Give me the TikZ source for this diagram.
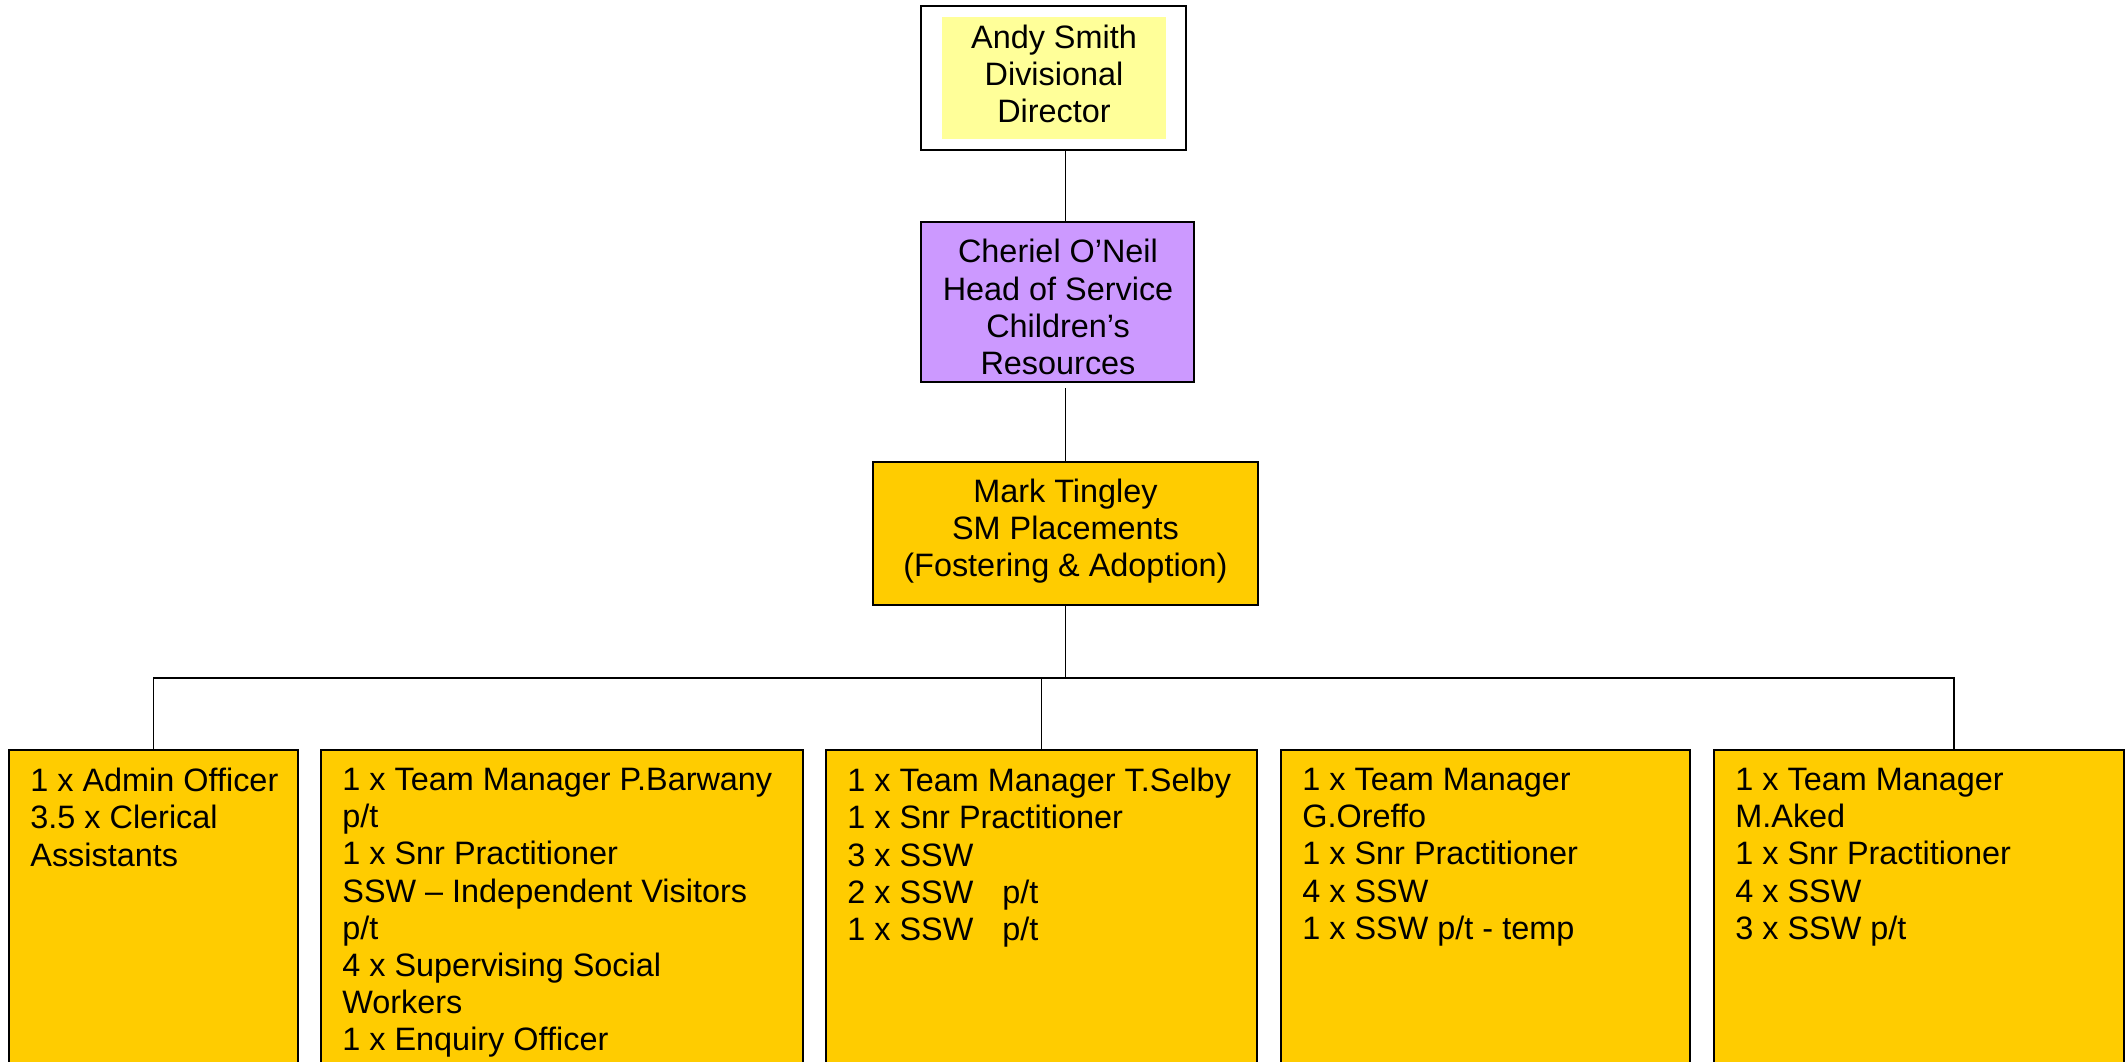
\documentclass[tikz,border=0pt]{standalone}
\usepackage{fontspec}
\setmainfont{Liberation Sans}
\usetikzlibrary{calc}
\definecolor{orgbox}{HTML}{FFCC00}
\definecolor{purplebox}{HTML}{CC99FF}
\definecolor{paleyellow}{HTML}{FFFF99}
\begin{document}
\begin{tikzpicture}[x=0.5pt,y=-0.5pt,
  every node/.style={font=\fontsize{16.2pt}{18.55pt}\selectfont},
  box/.style={draw=black, line width=1pt, inner sep=0pt, outer sep=0pt},
  staffbox/.style={box, fill=orgbox, minimum height=175pt},
  conn/.style={draw=black, line width=0.9pt},
  stafftext/.style={inner sep=0pt, align=left, anchor=north west},
  ctext/.style={inner sep=0pt, align=center}]
\clip (0,0) rectangle (2125,1061);
\fill[white] (0,0) rectangle (2125,1061);

% top
\node[box, fill=white, minimum width=132.5pt, minimum height=72pt] (top) at (1053.5,78) {};
\node[fill=paleyellow, inner sep=0pt, minimum width=112pt, minimum height=61pt] (topin) at (1054,78) {};
\node[ctext] (toptext) at (1054,74) {Andy Smith\\Divisional\\Director};

% head of service
\node[box, fill=purplebox, minimum width=136.5pt, minimum height=80pt] (purple) at (1057.5,302) {};
\node[ctext] (purpletext) at (1058,307) {Cheriel O’Neil\\Head of Service\\Children’s\\Resources};

% SM placements
\node[box, fill=orgbox, minimum width=192.5pt, minimum height=71.5pt] (mark) at (1065.5,533.5) {};
\node[ctext] (marktext) at (1065.5,531.5) {Mark Tingley\\SM Placements\\(Fostering \& Adoption)};

% staff boxes
\node[staffbox, minimum width=144.5pt] (b1) at (153.5,925) {};
\node[staffbox, minimum width=241pt] (b2) at (562,925) {};
\node[staffbox, minimum width=215.5pt] (b3) at (1041.5,925) {};
\node[staffbox, minimum width=204.5pt] (b4) at (1485.5,925) {};
\node[staffbox, minimum width=205pt] (b5) at (1919,925) {};

\node[stafftext] (t1) at ($(b1.north west)+(21,18)$) {1 x Admin Officer\\3.5 x Clerical\\Assistants};
\node[stafftext] (t2) at ($(b2.north west)+(21,18)$) {1 x Team Manager P.Barwany\\p/t\\1 x Snr Practitioner\\SSW – Independent Visitors\\p/t\\4 x Supervising Social\\Workers\\1 x Enquiry Officer};
\node[stafftext] (t3) at ($(b3.north west)+(21,18)$) {1 x Team Manager T.Selby\\1 x Snr Practitioner\\3 x SSW\\2 x SSW\hspace{10pt} p/t\\1 x SSW\hspace{10pt} p/t};
\node[stafftext] (t4) at ($(b4.north west)+(21,18)$) {1 x Team Manager\\G.Oreffo\\1 x Snr Practitioner\\4 x SSW\\1 x SSW p/t - temp};
\node[stafftext] (t5) at ($(b5.north west)+(21,18)$) {1 x Team Manager\\M.Aked\\1 x Snr Practitioner\\4 x SSW\\3 x SSW p/t};

% connectors
\coordinate (busmid) at (1065.5,678);
\coordinate (b5top) at (1954,750);
\draw[conn] (top.south -| mark.south) -- (purple.north -| mark.south);
\draw[conn] ([yshift=-3pt]purple.south -| mark.south) -- (mark.north);
\draw[conn] (mark.south) -- (busmid);
\draw[conn] (b1.north) -- (b1.north |- busmid) -- (b5top |- busmid) -- (b5top);
\draw[conn] (b3.north) -- (b3.north |- busmid);
\end{tikzpicture}
\end{document}
